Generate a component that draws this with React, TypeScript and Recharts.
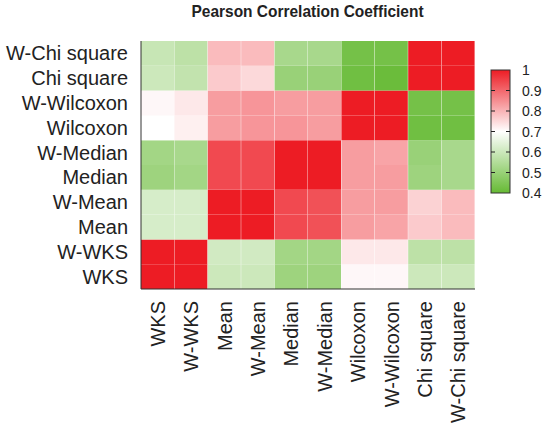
import React from "react";
import { Bar, BarChart, Cell, XAxis, YAxis } from "recharts";

// method names, used for both axes (bottom-to-top on Y)
const methods = [
  "WKS",
  "W-WKS",
  "Mean",
  "W-Mean",
  "Median",
  "W-Median",
  "Wilcoxon",
  "W-Wilcoxon",
  "Chi square",
  "W-Chi square",
];

// correlation rows, first row = WKS (bottom of the map)
const rowWKS = [1, 1, 0.6, 0.6, 0.51, 0.51, 0.71, 0.71, 0.6, 0.6];
const rowWWKS = [1, 1, 0.61, 0.61, 0.52, 0.52, 0.73, 0.73, 0.57, 0.57];
const rowMean = [0.62, 0.62, 1, 1, 0.94, 0.93, 0.83, 0.82, 0.77, 0.79];
const rowWMean = [0.62, 0.62, 1, 1, 0.94, 0.93, 0.83, 0.83, 0.76, 0.79];
const rowMedian = [0.51, 0.52, 0.94, 0.94, 1, 1, 0.83, 0.83, 0.51, 0.53];
const rowWMedian = [0.52, 0.53, 0.94, 0.94, 1, 1, 0.83, 0.82, 0.5, 0.53];
const rowWilcoxon = [0.7, 0.72, 0.83, 0.84, 0.84, 0.83, 1, 1, 0.42, 0.42];
const rowWWilcoxon = [0.71, 0.73, 0.83, 0.84, 0.83, 0.83, 1, 1, 0.43, 0.43];
const rowChi = [0.6, 0.58, 0.77, 0.75, 0.5, 0.5, 0.42, 0.41, 1, 1];
const rowWChi = [0.59, 0.57, 0.79, 0.79, 0.53, 0.53, 0.43, 0.43, 1, 1];

const rows = [
  rowWKS,
  rowWWKS,
  rowMean,
  rowWMean,
  rowMedian,
  rowWMedian,
  rowWilcoxon,
  rowWWilcoxon,
  rowChi,
  rowWChi,
];

const scaleTicks = [1, 0.9, 0.8, 0.7, 0.6, 0.5, 0.4];

const GREEN = [102, 186, 52];
const WHITE = [255, 255, 255];
const RED = [237, 28, 36];

function colorFor(v: number) {
  const mix = (a: number[], b: number[], t: number) =>
    `rgb(${a.map((c, i) => Math.round(c + (b[i] - c) * t)).join(",")})`;
  if (v <= 0.7) return mix(GREEN, WHITE, Math.max(0, (v - 0.4) / 0.3));
  return mix(WHITE, RED, Math.min(1, (v - 0.7) / 0.3));
}

const chartData = methods.map((name) => {
  const d: Record<string, string | number> = { name };
  rows.forEach((_, r) => {
    d[`r${r}`] = 1;
  });
  return d;
});

const font = "'Liberation Sans', Arial, sans-serif";

function XTick({ x, y, payload }: any) {
  return (
    <text
      x={x}
      y={y}
      transform={`rotate(-90 ${x} ${y})`}
      textAnchor="end"
      dominantBaseline="central"
      fontSize={20}
      fontFamily={font}
      fill="#222"
    >
      {payload.value}
    </text>
  );
}

function YTick({ x, y, payload }: any) {
  return (
    <text
      x={x}
      y={y}
      textAnchor="end"
      dominantBaseline="central"
      fontSize={20}
      fontFamily={font}
      fill="#222"
    >
      {methods[Math.floor(payload.value)]}
    </text>
  );
}

function ColorScale() {
  const top = 70;
  const h = 123;
  const left = 491;
  const w = 19;
  const yOf = (v: number) => top + ((1 - v) / 0.6) * h;
  return (
    <svg
      width={544}
      height={428}
      style={{ position: "absolute", left: 0, top: 0, pointerEvents: "none" }}
    >
      <defs>
        <linearGradient id="cscale" x1="0" y1="0" x2="0" y2="1">
          <stop offset="0%" stopColor={colorFor(1)} />
          <stop offset="50%" stopColor={colorFor(0.7)} />
          <stop offset="100%" stopColor={colorFor(0.4)} />
        </linearGradient>
      </defs>
      <rect x={left} y={top} width={w} height={h} fill="url(#cscale)" stroke="#333" />
      {scaleTicks.map((t) => (
        <g key={t}>
          {t < 1 && t > 0.4 && (
            <>
              <line x1={left} x2={left + 4} y1={yOf(t)} y2={yOf(t)} stroke="#222" />
              <line x1={left + w - 4} x2={left + w} y1={yOf(t)} y2={yOf(t)} stroke="#222" />
            </>
          )}
          <text
            x={522}
            y={yOf(t)}
            dominantBaseline="central"
            fontSize={14}
            fontFamily={font}
            fill="#222"
          >
            {t}
          </text>
        </g>
      ))}
    </svg>
  );
}

export default function App() {
  return (
    <div style={{ position: "absolute", left: 0, top: 0, width: 544, height: 428, background: "#fff" }}>
      <div
        style={{
          position: "absolute",
          left: 0,
          top: 2,
          width: 616,
          textAlign: "center",
          fontFamily: "'Liberation Sans Narrow', 'Arial Narrow', " + font,
          fontWeight: "bold",
          fontSize: 17,
          color: "#222",
        }}
      >
        <span style={{ display: "inline-block", transform: "scaleX(0.91)" }}>
          Pearson Correlation Coefficient
        </span>
      </div>
      <BarChart
        width={544}
        height={428}
        data={chartData}
        barCategoryGap={0}
        barGap={0}
        margin={{ top: 41, right: 69, bottom: 0, left: 0 }}
      >
        {rows.map((row, r) => (
          <Bar key={r} dataKey={`r${r}`} stackId="m" isAnimationActive={false}>
            {row.map((v, c) => (
              <Cell key={c} fill={colorFor(v)} />
            ))}
          </Bar>
        ))}
        <XAxis
          dataKey="name"
          interval={0}
          height={139}
          tickLine={false}
          tickSize={0}
          tickMargin={12}
          tick={<XTick />}
          axisLine={{ stroke: "#333" }}
        />
        <XAxis xAxisId="top" dataKey="name" orientation="top" height={0} tick={false} tickLine={false} axisLine={{ stroke: "#333" }} />
        <YAxis
          type="number"
          domain={[0, 10]}
          ticks={[0.5, 1.5, 2.5, 3.5, 4.5, 5.5, 6.5, 7.5, 8.5, 9.5]}
          width={141}
          tickLine={false}
          tickSize={0}
          tickMargin={13}
          tick={<YTick />}
          axisLine={{ stroke: "#333" }}
        />
        <YAxis yAxisId="right" orientation="right" type="number" domain={[0, 10]} width={0} tick={false} tickLine={false} axisLine={{ stroke: "#333" }} />
      </BarChart>
      <ColorScale />
    </div>
  );
}
